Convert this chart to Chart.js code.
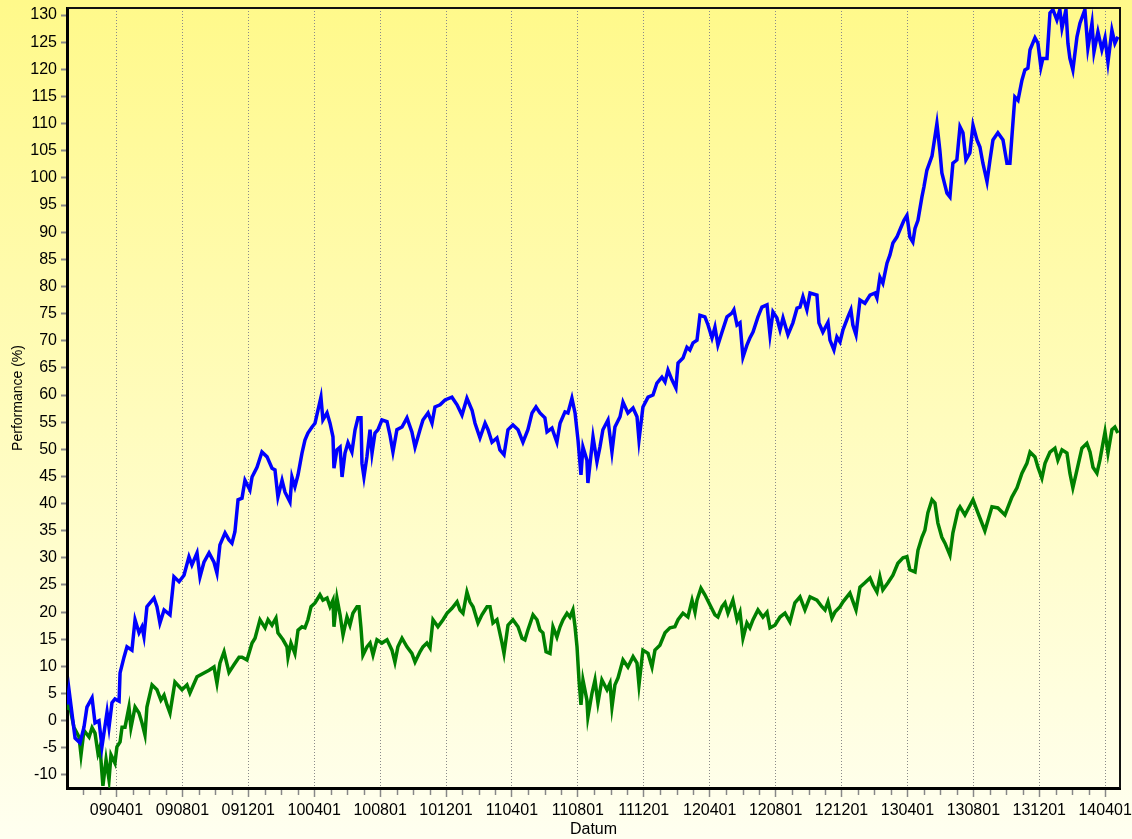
<!DOCTYPE html>
<html>
<head>
<meta charset="utf-8">
<title>Performance</title>
<script src="https://cdn.jsdelivr.net/npm/chart.js"></script>
<style>
  html, body { margin: 0; padding: 0; background: #fffde0; }
  #wrap { width: 1132px; height: 839px; }
</style>
</head>
<body>
<div id="wrap"><canvas id="chart" width="1132" height="839"></canvas></div>
<script>
// ------ Data (x = months since 2009-01-01) ------
const blueMonths = [
  0,0.12,0.49,0.79,1.03,1.21,1.52,1.70,1.94,2.12,
  2.43,2.55,2.73,2.91,3.16,3.22,3.46,3.64,3.94,4.13,
  4.37,4.55,4.67,4.85,5.28,5.46,5.64,5.89,6.25,6.49,
  6.80,7.10,7.40,7.58,7.89,8.07,8.31,8.62,8.92,9.10,
  9.28,9.59,9.83,10.01,10.19,10.38,10.62,10.80,11.10,11.23,
  11.53,11.83,12.14,12.44,12.62,12.80,13.05,13.23,13.53,13.65,
  13.83,14.02,14.26,14.44,14.62,14.87,15.05,15.23,15.41,15.53,
  15.78,15.96,16.14,16.20,16.38,16.57,16.69,16.87,17.05,17.29,
  17.48,17.66,17.84,17.90,18.02,18.20,18.39,18.51,18.69,18.87,
  19.11,19.42,19.60,19.78,20.02,20.33,20.63,20.93,21.12,21.42,
  21.60,21.91,22.15,22.33,22.64,22.94,23.36,23.67,23.97,24.27,
  24.58,24.76,25.06,25.37,25.55,25.79,26.09,26.27,26.52,26.76,
  27.06,27.37,27.67,27.97,28.22,28.46,28.70,29.00,29.13,29.43,
  29.73,29.92,30.22,30.40,30.64,30.83,31.01,31.19,31.31,31.55,
  31.61,31.92,32.16,32.34,32.52,32.83,33.07,33.25,33.56,33.74,
  34.04,34.35,34.59,34.71,34.95,35.26,35.56,35.80,36.10,36.29,
  36.47,36.71,36.95,37.08,37.38,37.62,37.80,37.99,38.23,38.41,
  38.71,38.90,39.14,39.32,39.50,39.75,40.05,40.35,40.47,40.66,
  40.84,41.02,41.26,41.44,41.63,41.93,42.17,42.48,42.66,42.84,
  43.08,43.27,43.45,43.75,44.05,44.30,44.48,44.66,44.90,45.09,
  45.51,45.63,45.87,46.18,46.30,46.54,46.72,46.91,47.09,47.39,
  47.57,47.69,47.88,48.12,48.42,48.73,49.03,49.15,49.33,49.51,
  49.76,49.94,50.12,50.36,50.61,50.79,50.97,51.15,51.33,51.46,
  51.64,51.88,52.00,52.18,52.49,52.79,52.97,53.09,53.40,53.58,
  53.76,54.00,54.19,54.37,54.55,54.79,54.98,55.22,55.40,55.58,
  55.83,56.01,56.19,56.49,56.80,57.04,57.22,57.34,57.52,57.71,
  57.95,58.13,58.31,58.44,58.74,58.92,59.10,59.22,59.47,59.65,
  59.83,60.07,60.25,60.38,60.62,60.74,60.86,61.04,61.29,61.47,
  61.77,61.95,62.20,62.32,62.56,62.80,62.99,63.17,63.41,63.59,
  63.77
];
const blueValues = [
  3,5.7,-3.2,-4.1,-1.2,2.5,4.2,-0.4,0,-4.8,
  1.6,-1.2,3.3,4.0,3.6,8.8,11.7,13.6,13,18.6,
  16.2,17.3,15.5,21,22.6,21,18,20.4,19.5,26.5,
  25.6,26.8,30.2,28.7,30.9,26.5,29.2,30.9,29.2,27.2,
  32.4,34.6,33.3,32.7,34.8,40.7,41,44.3,42.5,44.9,
  46.7,49.5,48.6,46.5,46.2,41.2,44.3,42.1,40.3,44.9,
  43.1,45.3,49.3,51.7,53,54.1,54.8,57.2,59.6,55.4,
  56.7,54.8,52.3,46.5,49.9,50.4,44.9,49.3,51.2,49.5,
  53.6,55.8,55.8,47.4,44.9,48.6,53.6,49.3,53,53.6,
  55.4,55.1,52.6,49.5,53.6,54.1,55.8,53.2,50.4,53.6,
  55.4,56.7,54.8,57.8,58.2,59.1,59.6,58.2,56.3,59.4,
  57.2,54.8,52.1,54.8,53.6,51.3,52.1,49.9,49,53.6,
  54.5,53.6,51.3,53.6,56.7,57.8,56.7,55.8,53.2,53.9,
  51.3,54.8,56.9,56.7,59.4,56.7,51.7,45.3,50.4,48,
  43.8,52.3,47.7,50.4,53.6,55.4,49.5,54.1,56,58.7,
  56.7,57.6,56,51.7,57.8,59.6,60,62.2,63.3,62.4,
  64.6,62.8,61.3,65.9,66.8,68.8,68.3,69.6,70.1,74.7,
  74.4,72.9,70.5,72.5,69.2,71.6,74.4,75.1,75.7,72.9,
  73.3,67,69.2,70.5,71.6,74.4,76.2,76.6,71.1,75.3,
  74.2,72,74.2,71.1,73.3,76,76.2,78.1,75.7,78.8,
  78.4,73.3,71.6,73.4,70.1,68.3,70.7,69.8,72,74.4,
  75.7,72.9,71.1,77.5,76.9,78.4,78.8,77.9,81.7,80.6,
  84.3,85.8,88,89.1,90.9,92.2,93.1,89.1,88.2,90.7,
  92.2,96.5,98.3,101.4,104,110,105,100.9,97.2,96.5,
  102.7,103.3,109.4,108.3,103.3,104.6,109.7,107,105.7,102.7,
  99.3,103.3,107,108.3,107,102.7,102.7,107.6,114.9,114.3,
  118,119.9,120.2,123.6,125.8,124.8,120.4,122,122,130.4,
  131,129.1,131,127.6,131,124.8,122,119.9,126,128.5,
  131,123.9,128.5,123.2,126.9,123.6,125.8,121.3,127.2,124.8,
  126
];

const greenMonths = [
  0,0.12,0.42,0.73,0.85,1.03,1.34,1.52,1.70,1.88,
  2.00,2.18,2.37,2.55,2.67,2.91,3.03,3.22,3.34,3.52,
  3.76,3.88,4.13,4.37,4.55,4.73,4.85,5.16,5.46,5.70,
  5.89,6.07,6.25,6.55,6.98,7.28,7.46,7.89,8.31,8.62,
  8.92,9.10,9.28,9.53,9.83,10.13,10.44,10.62,10.92,11.23,
  11.41,11.71,12.02,12.20,12.44,12.68,12.80,13.11,13.35,13.41,
  13.59,13.83,14.02,14.26,14.44,14.62,14.81,15.05,15.35,15.53,
  15.78,15.96,16.14,16.20,16.38,16.57,16.75,16.99,17.17,17.35,
  17.60,17.72,17.84,17.96,18.20,18.39,18.57,18.81,19.11,19.42,
  19.72,19.90,20.08,20.33,20.63,20.93,21.12,21.42,21.60,21.84,
  22.03,22.21,22.51,22.82,23.06,23.36,23.67,23.85,24.03,24.27,
  24.45,24.64,24.94,25.18,25.49,25.67,25.85,26.09,26.40,26.52,
  26.76,27.06,27.37,27.61,27.79,27.97,28.28,28.52,28.70,28.88,
  29.07,29.31,29.49,29.73,29.92,30.10,30.34,30.52,30.70,30.83,
  30.95,31.07,31.19,31.31,31.55,31.61,31.86,32.04,32.22,32.46,
  32.77,32.95,33.07,33.25,33.44,33.74,34.04,34.35,34.59,34.71,
  34.95,35.26,35.50,35.68,35.98,36.29,36.59,36.89,37.08,37.38,
  37.68,37.93,38.11,38.23,38.47,38.71,39.02,39.32,39.50,39.75,
  39.93,40.11,40.41,40.66,40.84,41.02,41.26,41.44,41.63,41.93,
  42.23,42.48,42.66,42.96,43.27,43.57,43.87,44.17,44.48,44.78,
  45.09,45.51,45.81,46.00,46.18,46.42,46.60,46.91,47.09,47.51,
  47.88,48.12,48.42,48.73,48.91,49.15,49.33,49.51,49.82,50.12,
  50.42,50.73,50.97,51.15,51.46,51.64,51.88,52.06,52.24,52.49,
  52.67,52.85,53.09,53.28,53.58,53.76,54.07,54.19,54.49,54.98,
  55.28,55.70,56.13,56.49,56.92,57.34,57.65,57.95,58.25,58.44,
  58.74,58.92,59.16,59.35,59.65,59.95,60.13,60.38,60.68,60.86,
  61.04,61.29,61.59,61.89,62.08,62.26,62.50,62.68,62.99,63.17,
  63.41,63.59,63.77
];
const greenValues = [
  2,3.3,-1.2,-3,-6.3,-1.8,-3,-1.3,-2.3,-6,
  -4.8,-12,-7.2,-10.9,-6.3,-7.8,-4.8,-3.9,-1.2,-1.2,
  2.5,-1.3,2.5,1.4,-0.4,-2.6,2.5,6.6,5.7,3.8,
  4.7,2.9,1.4,7.1,5.7,6.6,5.1,8.1,8.8,9.3,
  9.9,6.9,10.6,12.7,8.9,10.3,11.7,11.7,11.2,14.3,
  15.2,18.6,17.1,18.6,17.6,18.9,16.2,14.9,13.6,11.7,
  14.3,12.4,16.7,17.3,17.1,18.6,21,21.7,23.2,22.2,
  22.6,21,22.2,17.3,22.6,19.5,15.8,19.1,17.6,19.8,
  21,21,17.1,12.1,13.6,14.3,12.1,14.9,14.3,14.9,
  13,10.8,13.6,15.2,13.6,12.4,10.8,12.7,13.6,14.3,
  13.4,18.6,17.3,18.6,19.8,20.7,21.9,20.4,19.8,23.7,
  21.9,21,18,19.5,21,21,18,18.6,14.3,12.4,
  17.6,18.6,17.3,15.2,14.9,16.7,19.5,18.6,16.7,16.2,
  12.7,12.4,17.3,15.4,17.3,18.6,19.8,19.1,20.4,17.3,
  13.6,7.5,2.9,7.5,3.8,0.7,5.1,7.5,3.3,7.5,
  5.7,6.9,2.5,6.6,7.9,11.2,9.9,11.8,10.6,6.6,
  13,12.4,9.9,13,13.9,16.2,17.1,17.3,18.6,19.8,
  19.1,22.2,20,22.2,24.4,23.2,21.3,19.5,19.1,21,
  21.7,19.8,22.2,18.6,20,15.2,18,17.1,18.6,20.4,
  19.1,20,17.1,17.6,19.1,19.8,18.2,21.7,22.8,20.4,
  22.8,22.2,21,20.4,21.9,18.9,20,21,21.9,23.5,
  20.4,24.6,25.4,26.3,25,23.7,26.5,24.1,25.4,26.8,
  29,30,30.2,27.8,27.4,31.4,33.8,35.1,38.3,40.7,
  40.1,36.4,33.8,32.7,30.5,34.6,38.8,39.4,37.9,40.7,
  38.3,35,39.4,39.2,37.9,41.2,42.9,45.6,47.4,49.5,
  48.6,46.7,44.7,47.4,49.5,50.2,48,49.9,49.3,45.6,
  42.9,46.2,50.2,51.1,49.5,46.7,45.6,48,53.2,49.3,
  53.6,54.1,53
];

// tick labels on the date axis (month index -> label)
const tickMonths = [3,7,11,15,19,23,27,31,35,39,43,47,51,55,59,63];
const tickLabels = ['090401','090801','091201','100401','100801','101201','110401','110801',
                    '111201','120401','120801','121201','130401','130801','131201','140401'];
const yTicks = [-10,-5,0,5,10,15,20,25,30,35,40,45,50,55,60,65,70,75,80,85,90,95,100,105,110,115,120,125,130];

// ------ Helpers ------
function toPoints(xs, ys) {
  const n = Math.min(xs.length, ys.length);
  const out = [];
  for (let i = 0; i < n; i++) out.push({ x: xs[i], y: ys[i] });
  return out;
}

const FONT = "'Liberation Sans', Arial, sans-serif";

// yellow gradient behind everything
const bgPlugin = {
  id: "bg",
  beforeDraw(chart) {
    const { ctx, width, height } = chart;
    const g = ctx.createLinearGradient(0, 0, 0, height);
    g.addColorStop(0, "#fff98a");
    g.addColorStop(1, "#fffff0");
    ctx.save();
    ctx.fillStyle = g;
    ctx.fillRect(0, 0, width, height);
    ctx.restore();
  },
};

// frame on top/right and monthly minor ticks under the x axis
const framePlugin = {
  id: "frame",
  afterDraw(chart) {
    const { ctx, chartArea: a, scales } = chart;
    ctx.save();
    ctx.strokeStyle = "#111";
    ctx.lineWidth = 2;
    ctx.beginPath();
    ctx.moveTo(a.left, a.top);
    ctx.lineTo(a.right, a.top);
    ctx.lineTo(a.right, a.bottom);
    ctx.stroke();

    ctx.strokeStyle = "#888";
    ctx.lineWidth = 1.5;
    for (let m = 1; m < 64; m++) {
      if (tickMonths.includes(m)) continue;
      const x = Math.round(scales.x.getPixelForValue(m)) + 0.5;
      ctx.beginPath();
      ctx.moveTo(x, a.bottom + 2);
      ctx.lineTo(x, a.bottom + 7);
      ctx.stroke();
    }
    ctx.restore();
  },
};

// ------ Chart ------
new Chart(document.getElementById("chart"), {
  type: "line",
  data: {
    datasets: [
      {
        data: toPoints(blueMonths, blueValues),
        borderColor: "#0000ff",
        borderWidth: 3.5,
      },
      {
        data: toPoints(greenMonths, greenValues),
        borderColor: "#008000",
        borderWidth: 3.5,
      },
    ],
  },
  options: {
    responsive: false,
    animation: false,
    layout: { padding: { top: 8, right: 12, left: 0, bottom: 0 } },
    plugins: { legend: { display: false }, tooltip: { enabled: false } },
    elements: { point: { radius: 0 }, line: { tension: 0 } },
    scales: {
      x: {
        type: "linear",
        min: 0,
        max: 63.9,
        afterBuildTicks: (s) => { s.ticks = tickMonths.map((v) => ({ value: v })); },
        afterFit: (s) => { s.height = 51; s.paddingLeft = 0; s.paddingRight = 0; },
        ticks: {
          autoSkip: false,
          maxRotation: 0,
          padding: 4,
          color: "#000",
          font: { family: FONT, size: 16 },
          callback: (v) => tickLabels[tickMonths.indexOf(v)],
        },
        grid: { color: "#8a8a8a", lineWidth: 1, tickLength: 9, tickColor: "#888", tickWidth: 1.5 },
        border: { color: "#000", width: 3, dash: [1, 2] },
        title: { display: true, text: "Datum", color: "#000", font: { family: FONT, size: 16 }, padding: 0 },
      },
      y: {
        min: -12.4,
        max: 131.3,
        afterBuildTicks: (s) => { s.ticks = yTicks.map((v) => ({ value: v })); },
        afterFit: (s) => { s.width = 67; s.paddingTop = 0; s.paddingBottom = 0; },
        ticks: { autoSkip: false, padding: 4, color: "#000", font: { family: FONT, size: 16 } },
        grid: { drawOnChartArea: false, tickLength: 6, tickColor: "#888", tickWidth: 2 },
        border: { color: "#000", width: 3 },
        title: {
          display: true,
          text: "Performance (%)",
          color: "#000",
          font: { family: FONT, size: 14 },
          padding: { top: 10, bottom: 0 },
        },
      },
    },
  },
  plugins: [bgPlugin, framePlugin],
});
</script>
</body>
</html>
